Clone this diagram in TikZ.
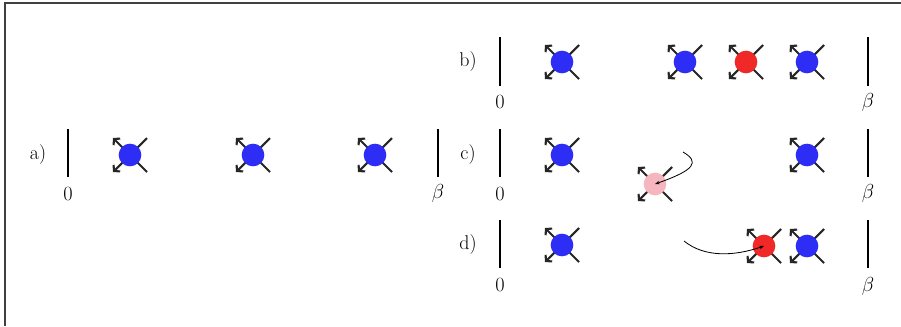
\documentclass[tikz,border=0pt]{standalone}
\usepackage{xcolor}
\usetikzlibrary{arrows.meta, calc}
\definecolor{vblue}{RGB}{45,45,245}
\definecolor{vred}{RGB}{240,40,40}
\definecolor{vpink}{RGB}{246,182,192}

\tikzset{
  frame/.style={draw=black!75, line width=0.9pt},
  bar/.style={line width=2.4pt},
  leg/.style={line width=1.8pt, black!85},
  vtx/.style={circle, inner sep=0pt, minimum size=0.68cm},
  hop/.style={line width=0.7pt, -{Stealth[length=4pt]}},
}
% vertex with its four legs: name, position, colour
\newcommand{\vertexat}[3]{%
  \coordinate (#1-p) at (#2);
  \draw[leg, -{Straight Barb[length=3.5pt, width=8pt]}] (#1-p) -- ++(-17,-17);
  \draw[leg, -{Straight Barb[length=3.5pt, width=8pt]}] (#1-p) -- ++(-17,17);
  \draw[leg] (#1-p) -- ++(17,-17);
  \draw[leg] (#1-p) -- ++(17,17);
  \node[vtx, fill=#3] (#1) at (#1-p) {};
}

\begin{document}
\begin{tikzpicture}[x=0.03cm, y=-0.03cm, font=\fontsize{17}{20}\selectfont]
  \useasboundingbox (0,0) rectangle (901,326);
  \draw[frame] (5,326) |- (901,3);

  % a)
  \node (la) at (38,155) {a)};
  \draw[bar] (68,129) -- (68,177);
  \node (za) at (68,194) {$0$};
  \draw[bar] (438,129) -- (438,177);
  \node (ba) at (438,193) {$\beta$};
  \vertexat{a1}{130,155}{vblue}
  \vertexat{a2}{253,155}{vblue}
  \vertexat{a3}{375,155}{vblue}

  % b)
  \node (lb) at (468,62) {b)};
  \draw[bar] (500,37) -- (500,86);
  \node (zb) at (500,102) {$0$};
  \draw[bar] (868,37) -- (868,86);
  \node (bb) at (868,102) {$\beta$};
  \vertexat{b1}{562,62}{vblue}
  \vertexat{b2}{685,62}{vblue}
  \vertexat{b3}{746,62}{vred}
  \vertexat{b4}{807,62}{vblue}

  % c)
  \node (lc) at (468,155) {c)};
  \draw[bar] (500,129) -- (500,177);
  \node (zc) at (500,194) {$0$};
  \draw[bar] (868,129) -- (868,177);
  \node (bc) at (868,193) {$\beta$};
  \vertexat{c1}{562,155}{vblue}
  \vertexat{c2}{655,184}{vpink}
  \vertexat{c3}{807,155}{vblue}
  \coordinate (cs) at (683,152);
  \draw[hop] (cs) .. controls (700,162) and (695,170) .. (c2.center);

  % d)
  \node (ld) at (468,245) {d)};
  \draw[bar] (500,220) -- (500,268);
  \node (zd) at (500,285) {$0$};
  \draw[bar] (868,220) -- (868,268);
  \node (bd) at (868,286) {$\beta$};
  \vertexat{d1}{562,245}{vblue}
  \vertexat{d2}{764,246}{vred}
  \vertexat{d3}{807,246}{vblue}
  \coordinate (ds) at (684,241);
  \draw[hop] (ds) .. controls (705,258) and (735,256) .. (d2.center);
\end{tikzpicture}
\end{document}
